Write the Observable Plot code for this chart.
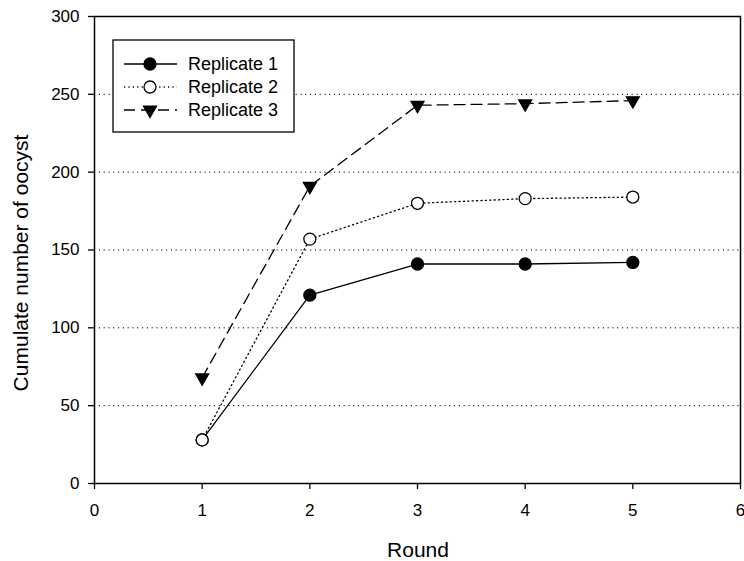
<!DOCTYPE html>
<html>
<head>
<meta charset="utf-8">
<script src="https://cdn.jsdelivr.net/npm/d3@7"></script>
<script src="https://cdn.jsdelivr.net/npm/@observablehq/plot@0.6"></script>
<style>
  html, body { margin: 0; padding: 0; background: #fff; }
  #chart { width: 744px; height: 561px; }
</style>
</head>
<body>
<div id="chart"></div>
<script>
const rounds = [1, 2, 3, 4, 5];
const replicate1 = [28, 121, 141, 141, 142];
const replicate2 = [28, 157, 180, 183, 184];
const replicate3 = [68, 191, 243, 244, 246];
const seriesNames = ["Replicate 1", "Replicate 2", "Replicate 3"];
const xTicks = [0, 1, 2, 3, 4, 5, 6];
const yTicks = [0, 50, 100, 150, 200, 250, 300];
const gridValues = [50, 100, 150, 200, 250];
const xLabel = "Round";
const yLabel = "Cumulate number of oocyst";

const seriesValues = [replicate1, replicate2, replicate3];
const styles = [
  {dash: null, symbol: "circle", fill: "black", r: 6, rotate: 0},
  {dash: "1.2,3.2", symbol: "circle", fill: "white", r: 6, rotate: 0},
  {dash: "11,6", symbol: "triangle", fill: "black", r: 4.8, rotate: 180}
];

const data = [];
seriesNames.forEach((name, i) => {
  rounds.forEach((r, j) => data.push({series: name, round: r, value: seriesValues[i][j]}));
});

const font = "'Liberation Sans', Arial, Helvetica, sans-serif";

const marks = [
  Plot.gridY(gridValues, {stroke: "black", strokeOpacity: 1, strokeWidth: 1, strokeDasharray: "1.2,3.6"})
];
seriesNames.forEach((name, i) => {
  const s = styles[i];
  const d = data.filter(e => e.series === name);
  marks.push(Plot.line(d, {x: "round", y: "value", stroke: "black", strokeWidth: 1.3, strokeDasharray: s.dash}));
});
seriesNames.forEach((name, i) => {
  const s = styles[i];
  const d = data.filter(e => e.series === name);
  marks.push(Plot.dot(d, {x: "round", y: "value", symbol: s.symbol, r: s.r, fill: s.fill, stroke: "black", strokeWidth: 1.3, rotate: s.rotate}));
});
marks.push(Plot.frame({stroke: "black", strokeWidth: 1.5}));
marks.push(Plot.axisX({ticks: xTicks, tickFormat: d3.format("d"), tickSize: 6, tickPadding: 14, fontSize: 17, label: null, strokeWidth: 1.3}));
marks.push(Plot.axisY({ticks: yTicks, tickFormat: d3.format("d"), tickSize: 6, tickPadding: 9, fontSize: 17, label: null, strokeWidth: 1.3}));

const svg = Plot.plot({
  width: 744,
  height: 561,
  marginLeft: 94,
  marginRight: 4,
  marginTop: 16,
  marginBottom: 78,
  style: {fontFamily: font, color: "black", background: "white", overflow: "visible"},
  x: {domain: [0, 6]},
  y: {domain: [0, 300]},
  marks
});

const root = d3.select(svg);

// axis titles
root.append("text")
  .attr("x", 418).attr("y", 549)
  .attr("text-anchor", "middle").attr("dominant-baseline", "central")
  .attr("font-size", 21).attr("font-family", font).attr("fill", "black")
  .text(xLabel);
root.append("text")
  .attr("transform", "translate(20,263) rotate(-90)")
  .attr("text-anchor", "middle").attr("dominant-baseline", "central")
  .attr("font-size", 21).attr("font-family", font).attr("fill", "black")
  .text(yLabel);

// legend
const lg = root.append("g");
lg.append("rect").attr("x", 113).attr("y", 40).attr("width", 181).attr("height", 92)
  .attr("fill", "white").attr("stroke", "black").attr("stroke-width", 1.3);
seriesNames.forEach((name, i) => {
  const s = styles[i];
  const cy = 64 + i * 23;
  lg.append("line").attr("x1", 124).attr("x2", 177).attr("y1", cy).attr("y2", cy)
    .attr("stroke", "black").attr("stroke-width", 1.3)
    .attr("stroke-dasharray", s.dash);
  const sym = s.symbol === "circle" ? d3.symbolCircle : d3.symbolTriangle;
  lg.append("path")
    .attr("d", d3.symbol(sym, s.r * s.r * Math.PI)())
    .attr("transform", `translate(150,${cy}) rotate(${s.rotate})`)
    .attr("fill", s.fill).attr("stroke", "black").attr("stroke-width", 1.3);
  lg.append("text").attr("x", 188).attr("y", cy)
    .attr("text-anchor", "start")
    .attr("dominant-baseline", "central")
    .attr("font-size", 18).attr("font-family", font).attr("fill", "black")
    .text(name);
});

document.getElementById("chart").appendChild(svg);
</script>
</body>
</html>
